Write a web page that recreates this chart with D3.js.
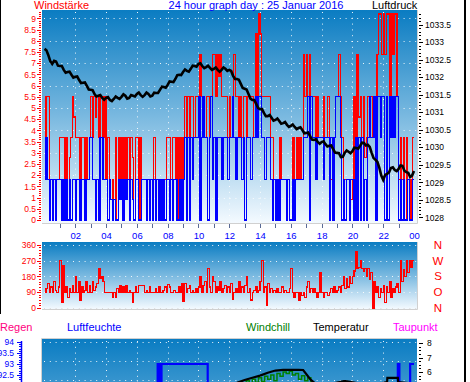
<!DOCTYPE html>
<html>
<head>
<meta charset="utf-8">
<script src="https://cdn.jsdelivr.net/npm/d3@7"></script>
<style>
  html, body { margin: 0; padding: 0; background: #fff; }
  svg { display: block; font-family: 'Liberation Sans', Arial, sans-serif; }
</style>
</head>
<body>
<div id="app"></div>
<script>
'use strict'

// hour labels under the wind panel
const hourTicks = [2, 4, 6, 8, 10, 12, 14, 16, 18, 20, 22, 24]
const hourLabels = ['02', '04', '06', '08', '10', '12', '14', '16', '18', '20', '22', '00']

// Windstärke, 10 samples per hour (one row = one hour)
const windGust = [
  3.7, 5.5, 5.5, 1.8, 1.8, 1.8, 1.8, 1.8, 1.8, 1.8,
  3.7, 3.7, 3.7, 0, 3.7, 0, 2.8, 3.7, 5.5, 4.6,
  3.7, 3.7, 3.7, 1.8, 3.7, 3.7, 1.8, 3.7, 1.8, 3.7,
  5.5, 3.7, 5.5, 4.6, 5.5, 3.7, 5.5, 5.5, 3.7, 5.5,
  1.8, 3.7, 1.8, 0.9, 1.8, 0.9, 3.7, 0, 3.7, 0.9,
  3.7, 0, 3.7, 0.9, 3.7, 0, 3.7, 2.8, 0, 3.7,
  3.7, 0, 3.7, 1.8, 1.8, 1.8, 1.8, 1.8, 0, 1.8,
  0, 3.7, 0, 1.8, 0, 1.8, 0, 1.8, 1.8, 3.7,
  3.7, 3.7, 1.8, 3.7, 3.7, 1.8, 3.7, 0, 3.7, 0,
  3.7, 5.5, 3.7, 5.5, 1.8, 5.5, 5.5, 3.7, 5.5, 5.5,
  5.5, 7.4, 5.5, 5.5, 3.7, 5.5, 5.5, 3.7, 5.5, 7.4,
  7.4, 5.5, 7.4, 6.4, 7.4, 5.5, 5.5, 5.5, 5.5, 3.7,
  5.5, 3.7, 5.5, 7.4, 5.5, 5.5, 3.7, 5.5, 3.7, 5.5,
  5.5, 3.7, 5.5, 5.5, 5.5, 5.5, 3.7, 8.3, 5.5, 9.2,
  8.3, 5.5, 5.5, 5.5, 5.5, 5.5, 5.5, 3.7, 3.7, 1.8,
  1.8, 1.8, 1.8, 3.7, 1.8, 1.8, 1.8, 1.8, 1.8, 0,
  0, 3.7, 0, 1.8, 3.7, 1.8, 3.7, 1.8, 7.4, 5.5,
  7.4, 5.5, 7.4, 5.5, 5.5, 5.5, 3.7, 5.5, 3.7, 3.7,
  3.7, 5.5, 3.7, 3.7, 5.5, 1.8, 1.8, 3.7, 3.7, 5.5,
  5.5, 7.4, 5.5, 3.7, 1.8, 1.8, 1.8, 1.8, 1.8, 0.9,
  1.8, 5.5, 3.7, 7.4, 4.6, 5.5, 3.7, 5.5, 2.8, 3.7,
  5.5, 5.5, 5.5, 3.7, 5.5, 5.5, 7.4, 9.2, 9.2, 7.4,
  9.2, 7.4, 9.2, 9.2, 5.5, 9.2, 7.4, 9.2, 9.2, 5.5,
  1.8, 3.7, 1.8, 3.7, 0, 3.7, 1.8, 0, 1.8, 3.7
]
const windAvg = [
  1.8, 3.7, 1.8, 0, 1.8, 0, 1.8, 0, 1.8, 1.8,
  1.8, 0, 1.8, 0, 1.8, 0, 1.8, 0, 1.8, 1.8,
  0, 1.8, 1.8, 0, 1.8, 1.8, 0, 1.8, 1.8, 3.7,
  3.7, 1.8, 1.8, 0, 1.8, 0, 3.7, 3.7, 1.8, 1.8,
  1.8, 0, 1.8, 0.9, 0, 0.9, 0, 0, 1.8, 0.9,
  1.8, 0, 1.8, 0.9, 1.8, 0, 1.8, 0.9, 0, 1.8,
  1.8, 0, 0, 1.8, 1.8, 1.8, 0, 1.8, 0, 1.8,
  0, 1.8, 0, 1.8, 0, 1.8, 0, 1.8, 0, 1.8,
  1.8, 0, 1.8, 0, 1.8, 1.8, 0, 0, 1.8, 0,
  1.8, 3.7, 0, 3.7, 0, 3.7, 1.8, 3.7, 3.7, 3.7,
  5.5, 0, 3.7, 5.5, 3.7, 3.7, 0, 3.7, 5.5, 1.8,
  3.7, 0, 3.7, 3.7, 3.7, 1.8, 3.7, 3.7, 3.7, 1.8,
  3.7, 3.7, 5.5, 3.7, 1.8, 3.7, 3.7, 3.7, 1.8, 3.7,
  0, 3.7, 3.7, 3.7, 1.8, 3.7, 3.7, 5.5, 3.7, 5.5,
  5.5, 3.7, 3.7, 1.8, 3.7, 3.7, 3.7, 1.8, 0, 1.8,
  0, 1.8, 0, 1.8, 1.8, 1.8, 1.8, 0, 1.8, 0,
  0, 1.8, 0, 1.8, 1.8, 1.8, 1.8, 1.8, 3.7, 3.7,
  3.7, 5.5, 0, 5.5, 3.7, 3.7, 1.8, 3.7, 3.7, 3.7,
  3.7, 1.8, 3.7, 3.7, 3.7, 0, 3.7, 0, 3.7, 5.5,
  5.5, 5.5, 3.7, 0, 1.8, 0, 1.8, 1.8, 0, 1.8,
  1.8, 0, 3.7, 0, 3.7, 0, 3.7, 0, 1.8, 0,
  3.7, 5.5, 3.7, 3.7, 5.5, 0, 5.5, 5.5, 3.7, 5.5,
  5.5, 0, 5.5, 0, 5.5, 3.7, 5.5, 3.7, 5.5, 5.5,
  0, 1.8, 0, 1.8, 0, 0, 1.8, 0, 0, 1.8
]

// Luftdruck every 7.5 minutes (hPa)
const pressure = [
  1032.81, 1032.77, 1032.63, 1032.46, 1032.38, 1032.47, 1032.45, 1032.33,
  1032.32, 1032.32, 1032.21, 1032.13, 1032.15, 1032.16, 1032.07, 1031.99,
  1032.01, 1032.02, 1031.92, 1031.83, 1031.84, 1031.85, 1031.75, 1031.65,
  1031.64, 1031.63, 1031.52, 1031.45, 1031.47, 1031.49, 1031.41, 1031.36,
  1031.41, 1031.43, 1031.35, 1031.32, 1031.38, 1031.45, 1031.41, 1031.38,
  1031.44, 1031.51, 1031.47, 1031.39, 1031.41, 1031.49, 1031.47, 1031.45,
  1031.52, 1031.56, 1031.49, 1031.44, 1031.49, 1031.56, 1031.52, 1031.45,
  1031.47, 1031.56, 1031.55, 1031.55, 1031.64, 1031.73, 1031.72, 1031.70,
  1031.78, 1031.88, 1031.87, 1031.86, 1031.95, 1032.06, 1032.07, 1032.06,
  1032.15, 1032.22, 1032.18, 1032.16, 1032.24, 1032.33, 1032.32, 1032.30,
  1032.38, 1032.40, 1032.32, 1032.26, 1032.29, 1032.33, 1032.27, 1032.21,
  1032.24, 1032.28, 1032.21, 1032.16, 1032.21, 1032.28, 1032.24, 1032.18,
  1032.21, 1032.18, 1032.04, 1031.95, 1031.95, 1031.93, 1031.81, 1031.69,
  1031.67, 1031.65, 1031.52, 1031.39, 1031.35, 1031.35, 1031.24, 1031.12,
  1031.09, 1031.09, 1030.98, 1030.89, 1030.89, 1030.92, 1030.84, 1030.76,
  1030.78, 1030.82, 1030.75, 1030.67, 1030.69, 1030.72, 1030.64, 1030.58,
  1030.61, 1030.65, 1030.58, 1030.52, 1030.55, 1030.57, 1030.49, 1030.40,
  1030.41, 1030.42, 1030.32, 1030.22, 1030.21, 1030.23, 1030.15, 1030.10,
  1030.15, 1030.17, 1030.09, 1030.02, 1030.04, 1030.05, 1029.95, 1029.85,
  1029.84, 1029.83, 1029.72, 1029.73, 1029.84, 1029.91, 1029.87, 1029.83,
  1029.89, 1029.99, 1029.98, 1029.96, 1030.04, 1030.13, 1030.12, 1030.05,
  1030.07, 1030.01, 1029.84, 1029.69, 1029.64, 1029.58, 1029.41, 1029.19,
  1029.07, 1029.21, 1029.24, 1029.28, 1029.41, 1029.43, 1029.35, 1029.32,
  1029.38, 1029.48, 1029.47, 1029.33, 1029.29, 1029.27, 1029.15, 1029.19,
  1029.32
]

// Windrichtung, 10 samples per hour (degrees)
const windDir = [
  90, 110, 140, 90, 120, 90, 150, 100, 90, 120,
  270, 30, 240, 90, 120, 60, 110, 90, 130, 90,
  180, 90, 150, 45, 120, 90, 100, 150, 90, 130,
  90, 150, 100, 120, 140, 225, 170, 180, 150, 90,
  90, 90, 90, 90, 60, 90, 60, 110, 90, 130,
  90, 120, 90, 130, 90, 100, 90, 30, 90, 120,
  90, 130, 130, 130, 130, 90, 100, 90, 120, 90,
  90, 90, 110, 90, 120, 90, 90, 100, 120, 90,
  135, 120, 90, 90, 100, 90, 90, 120, 90, 140,
  40, 140, 90, 110, 130, 90, 100, 90, 110, 90,
  120, 180, 90, 130, 150, 90, 225, 120, 90, 180,
  150, 90, 120, 100, 150, 90, 110, 130, 90, 120,
  90, 140, 50, 90, 110, 90, 150, 90, 120, 90,
  130, 180, 90, 110, 45, 90, 100, 120, 90, 100,
  150, 270, 90, 120, 15, 140, 90, 110, 90, 100,
  90, 110, 90, 90, 120, 90, 100, 90, 90, 110,
  225, 90, 60, 90, 90, 45, 90, 70, 90, 60,
  120, 150, 90, 110, 90, 110, 90, 60, 90, 200,
  90, 60, 90, 90, 70, 90, 110, 90, 120, 90,
  100, 120, 90, 130, 180, 110, 170, 120, 180, 140,
  180, 210, 320, 225, 230, 270, 225, 210, 225, 180,
  225, 160, 200, 0, 150, 90, 120, 60, 110, 90,
  130, 30, 120, 90, 150, 60, 110, 90, 120, 140,
  90, 270, 150, 220, 180, 270, 200, 270, 230, 270
]
const dirLabels = ['N', 'W', 'S', 'O', 'N']
const dirTicks = [360, 270, 180, 90, 0]

// Luftfeuchte (%), step changes
const humTimes = [0, 4, 7.35, 7.48, 7.6, 10.6, 14, 19, 22.95, 23.05, 23.75]
const humValues = [91.2, 91.6, 93, 92, 93, 92, 91, 90.5, 93, 92, 93]

// Temperatur and Windchill (°C)
const tempTimes = [0, 3, 6, 9, 12, 12.5, 13, 13.5, 14, 14.5, 15, 15.5, 16, 16.5, 16.8, 17.3, 17.6, 18.5, 19.45, 19.55, 20.5, 21.5, 22.25, 22.27, 22.95, 22.97, 24]
const tempValues = [4.9, 4.6, 4.4, 4.8, 5.1, 5.25, 5.45, 5.6, 5.75, 5.95, 6.1, 6.15, 6.15, 6.15, 6.14, 5.45, 5.2, 5.15, 5.38, 5.38, 5.2, 5.15, 5.3, 5.59, 5.59, 5.3, 5.2]
const chillTimes = [0, 6, 12, 12.9, 13.1, 13.3, 13.5, 13.7, 13.9, 14.1, 14.3, 14.5, 14.7, 14.9, 15.1, 15.3, 15.5, 15.7, 15.9, 16.1, 16.3, 16.5, 16.7, 16.9, 17.1, 17.3, 18, 24]
const chillValues = [3.8, 3.5, 4.2, 5.0, 5.4, 5.2, 5.5, 5.3, 5.6, 5.35, 5.7, 5.5, 5.8, 5.4, 5.9, 5.7, 6.0, 5.9, 6.05, 5.8, 5.9, 5.5, 5.75, 5.4, 5.6, 5.0, 4.5, 4.4]

const legend = [
  { text: 'Regen', x: 0, color: '#ff0080' },
  { text: 'Luftfeuchte', x: 67, color: '#0000ff' },
  { text: 'Windchill', x: 246, color: '#008000' },
  { text: 'Temperatur', x: 313, color: '#000000' },
  { text: 'Taupunkt', x: 393, color: '#ff00ff' }
]

const setWidth = 470
const setHeight = 382
const fontFamily = "'Liberation Sans', Arial, sans-serif"

const panels = {
  wind: { x: 42, y: 10, w: 375, h: 213 },
  dir: { x: 42, y: 242, w: 375, h: 67 },
  hum: { x: 42, y: 339, w: 375, h: 214 }
}

const scaleX = d3.scaleLinear().domain([0, 24]).range([44.5, 414])
const scaleWind = d3.scaleLinear().domain([0, 9]).range([220, 18.4])
const scalePress = d3.scaleLinear().domain([1028, 1033.5]).range([217.3, 24.7])
const scaleDir = d3.scaleLinear().domain([0, 360]).range([308, 244.7])
const scaleHum = d3.scaleLinear().domain([84, 94]).range([562, 342])
const scaleTemp = d3.scaleLinear().domain([6, 8]).range([372, 343])

const steps = (lo, hi, step) => d3.range(Math.round((hi - lo) / step) + 1).map(i => +(lo + i * step).toFixed(2))

const svg = d3.select('#app')
  .append('svg')
  .attr('width', setWidth)
  .attr('height', setHeight)

const defs = svg.append('defs')

const grad = defs.append('linearGradient')
  .attr('id', 'panelGrad')
  .attr('x1', 0).attr('y1', 0).attr('x2', 0).attr('y2', 1)
grad.append('stop').attr('offset', '0%').attr('stop-color', '#0a7cc2')
grad.append('stop').attr('offset', '50%').attr('stop-color', '#7ab9e0')
grad.append('stop').attr('offset', '100%').attr('stop-color', '#f4faff')

Object.entries(panels).forEach(([key, p]) => {
  defs.append('clipPath').attr('id', 'clip-' + key)
    .append('rect').attr('x', p.x).attr('y', p.y).attr('width', p.w).attr('height', p.h)
  svg.append('rect')
    .attr('x', p.x).attr('y', p.y).attr('width', p.w).attr('height', p.h)
    .attr('fill', 'url(#panelGrad)')
})

// panel edges
const edge = (x1, y1, x2, y2) => svg.append('line')
  .attr('x1', x1).attr('y1', y1).attr('x2', x2).attr('y2', y2)
  .attr('stroke', '#d0d0d0').attr('stroke-width', 1)
edge(42, 223.5, 417.5, 223.5)
edge(417.5, 10, 417.5, 223.5)
edge(42, 309.5, 417.5, 309.5)
edge(417.5, 242, 417.5, 309.5)
edge(41.5, 338.5, 417, 338.5)
edge(41.5, 338.5, 41.5, 382)

// dotted grid
const dots = (g, x1, y1, x2, y2) => g.append('line')
  .attr('x1', x1).attr('y1', y1).attr('x2', x2).attr('y2', y2)
  .attr('stroke', '#ffffff').attr('stroke-width', 1)
  .attr('stroke-dasharray', '1,4.8').attr('opacity', 0.9)

const gridTop = svg.append('g').attr('clip-path', 'url(#clip-wind)')
d3.range(1, 10).forEach(v => dots(gridTop, 44, Math.round(scaleWind(v)) + 0.5, 417, Math.round(scaleWind(v)) + 0.5))
hourTicks.slice(0, -1).forEach(h => dots(gridTop, Math.round(scaleX(h)) + 0.5, 12, Math.round(scaleX(h)) + 0.5, 223))

const gridDir = svg.append('g')
dirTicks.forEach(v => dots(gridDir, 44, Math.round(scaleDir(v)) + 0.5, 417, Math.round(scaleDir(v)) + 0.5)
  .attr('stroke', v === 0 ? '#d8d8d8' : '#ffffff'))

const gridHum = svg.append('g').attr('clip-path', 'url(#clip-hum)')
;[94, 93.13, 92.26].forEach(v => dots(gridHum, 44, Math.round(scaleHum(v)) + 0.5, 417, Math.round(scaleHum(v)) + 0.5))
hourTicks.slice(0, -1).forEach(h => dots(gridHum, Math.round(scaleX(h)) + 0.5, 341, Math.round(scaleX(h)) + 0.5, 553))

// wind steps
const perHour = 10
const toSeries = arr => arr.map((v, i) => ({ t: i / perHour, v })).concat([{ t: 24, v: arr[arr.length - 1] }])

const windLine = d3.line()
  .x(d => scaleX(d.t))
  .y(d => scaleWind(d.v))
  .curve(d3.curveStepAfter)

const windLayer = svg.append('g').attr('clip-path', 'url(#clip-wind)')

windLayer.append('path')
  .datum(toSeries(windGust))
  .attr('d', windLine)
  .attr('fill', 'none')
  .attr('stroke', '#ff0000')
  .attr('stroke-width', 1.2)
  .attr('shape-rendering', 'crispEdges')

windLayer.append('path')
  .datum(toSeries(windAvg))
  .attr('d', windLine)
  .attr('fill', 'none')
  .attr('stroke', '#0000ff')
  .attr('stroke-width', 1.2)
  .attr('shape-rendering', 'crispEdges')

windLayer.append('path')
  .datum(pressure.map((v, i) => ({ t: i / 8, v })))
  .attr('d', d3.line().x(d => scaleX(d.t)).y(d => scalePress(d.v)))
  .attr('fill', 'none')
  .attr('stroke', '#000000')
  .attr('stroke-width', 2.6)
  .attr('stroke-linejoin', 'miter')

// direction
svg.append('g').attr('clip-path', 'url(#clip-dir)')
  .append('path')
  .datum(toSeries(windDir))
  .attr('d', d3.line().x(d => scaleX(d.t)).y(d => scaleDir(d.v)).curve(d3.curveStepAfter))
  .attr('fill', 'none')
  .attr('stroke', '#ff0000')
  .attr('stroke-width', 1.2)
  .attr('shape-rendering', 'crispEdges')

// lower panel
const humLayer = svg.append('g').attr('clip-path', 'url(#clip-hum)')
const pairs = (ts, vs) => ts.map((t, i) => ({ t, v: vs[i] }))

humLayer.append('path')
  .datum(pairs(chillTimes, chillValues))
  .attr('d', d3.line().x(d => scaleX(d.t)).y(d => scaleTemp(d.v)).curve(d3.curveStepAfter))
  .attr('fill', 'none')
  .attr('stroke', '#008000')
  .attr('stroke-width', 1.5)

humLayer.append('path')
  .datum(pairs(humTimes, humValues).concat([{ t: 24, v: humValues[humValues.length - 1] }]))
  .attr('d', d3.line().x(d => scaleX(d.t)).y(d => scaleHum(d.v)).curve(d3.curveStepAfter))
  .attr('fill', 'none')
  .attr('stroke', '#0000ff')
  .attr('stroke-width', 2.2)

humLayer.append('path')
  .datum(pairs(tempTimes, tempValues))
  .attr('d', d3.line().x(d => scaleX(d.t)).y(d => scaleTemp(d.v)))
  .attr('fill', 'none')
  .attr('stroke', '#000000')
  .attr('stroke-width', 2.2)

// axes
const addAxis = (x, y, makeAxis, scale, major, minor, fmt, color, size) => {
  const g = svg.append('g').attr('transform', `translate(${x},${y})`)
  g.append('g').call(makeAxis(scale).tickValues(minor).tickSize(2).tickFormat(''))
  g.append('g').call(makeAxis(scale).tickValues(major).tickSize(4).tickPadding(1).tickFormat(fmt))
  g.selectAll('.domain').remove()
  g.selectAll('line').attr('stroke', color).attr('shape-rendering', 'crispEdges')
  g.selectAll('text')
    .attr('fill', color)
    .attr('font-size', size || 8.5)
    .attr('font-family', fontFamily)
  return g
}

const fmtNum = d => String(+d.toFixed(1))

addAxis(41, 0, d3.axisLeft, scaleWind, steps(0, 9, 0.5), steps(0, 9.4, 0.1), fmtNum, '#ff0000')
addAxis(419, 0, d3.axisRight, scalePress, steps(1028, 1033.5, 0.5), steps(1028, 1033.8, 0.1), fmtNum, '#000000')
  .selectAll('text').attr('x', 6)
addAxis(41, 0, d3.axisLeft, scaleDir, dirTicks, steps(0, 360, 15), d => d, '#ff0000')
addAxis(21, 0, d3.axisLeft, scaleHum, steps(92.5, 94, 0.5), steps(90, 94, 0.1), fmtNum, '#0000ff')
  .selectAll('text').attr('x', -7)
svg.append('line')
  .attr('x1', 21.5).attr('y1', 341).attr('x2', 21.5).attr('y2', 382)
  .attr('stroke', '#0000ff').attr('stroke-width', 1.5)
addAxis(419, 0, d3.axisRight, scaleTemp, steps(6, 8, 1), steps(4, 8, 0.25), d => d, '#000000')
  .selectAll('text').attr('x', 8)

// hour ticks and labels
const hourAxis = svg.append('g').attr('transform', 'translate(0,224)')
hourAxis.call(d3.axisBottom(scaleX).tickValues(d3.range(1, 24)).tickSize(4).tickFormat(''))
hourAxis.select('.domain').remove()
hourAxis.selectAll('line').attr('stroke', '#5a6a96').attr('shape-rendering', 'crispEdges')

const hourText = svg.append('g').attr('transform', 'translate(0,223)')
hourText.call(d3.axisBottom(scaleX).tickValues(hourTicks).tickSize(0).tickPadding(9).tickFormat((d, i) => hourLabels[i]))
hourText.select('.domain').remove()
hourText.selectAll('text')
  .attr('fill', '#0000ff')
  .attr('font-size', 9.5)
  .attr('font-family', fontFamily)

// compass letters
svg.append('g')
  .selectAll('text')
  .data(dirLabels)
  .enter()
  .append('text')
  .attr('x', 438)
  .attr('y', (d, i) => scaleDir(dirTicks[i]) + 4)
  .attr('text-anchor', 'middle')
  .attr('fill', '#ff0000')
  .attr('font-size', 11.5)
  .attr('font-family', fontFamily)
  .text(d => d)

// titles
const label = (x, y, text, color, anchor) => svg.append('text')
  .attr('x', x).attr('y', y)
  .attr('fill', color)
  .attr('font-size', 11)
  .attr('font-family', fontFamily)
  .attr('text-anchor', anchor || 'start')
  .text(text)

svg.append('rect').attr('x', 0).attr('y', 0).attr('width', setWidth).attr('height', 10).attr('fill', '#ffffff')
label(34, 9, 'Windstärke', '#ff0000')
label(256, 8.5, '24 hour graph day : 25 Januar 2016', '#0000ff', 'middle')
label(372, 9, 'Luftdruck', '#000000')

legend.forEach(d => label(d.x, 331, d.text, d.color))

// frame
svg.append('line').attr('x1', 0.5).attr('y1', 0).attr('x2', 0.5).attr('y2', 314).attr('stroke', '#000')
svg.append('line').attr('x1', 465).attr('y1', 0).attr('x2', 465).attr('y2', 382).attr('stroke', '#000').attr('stroke-width', 2)
</script>
</body>
</html>
